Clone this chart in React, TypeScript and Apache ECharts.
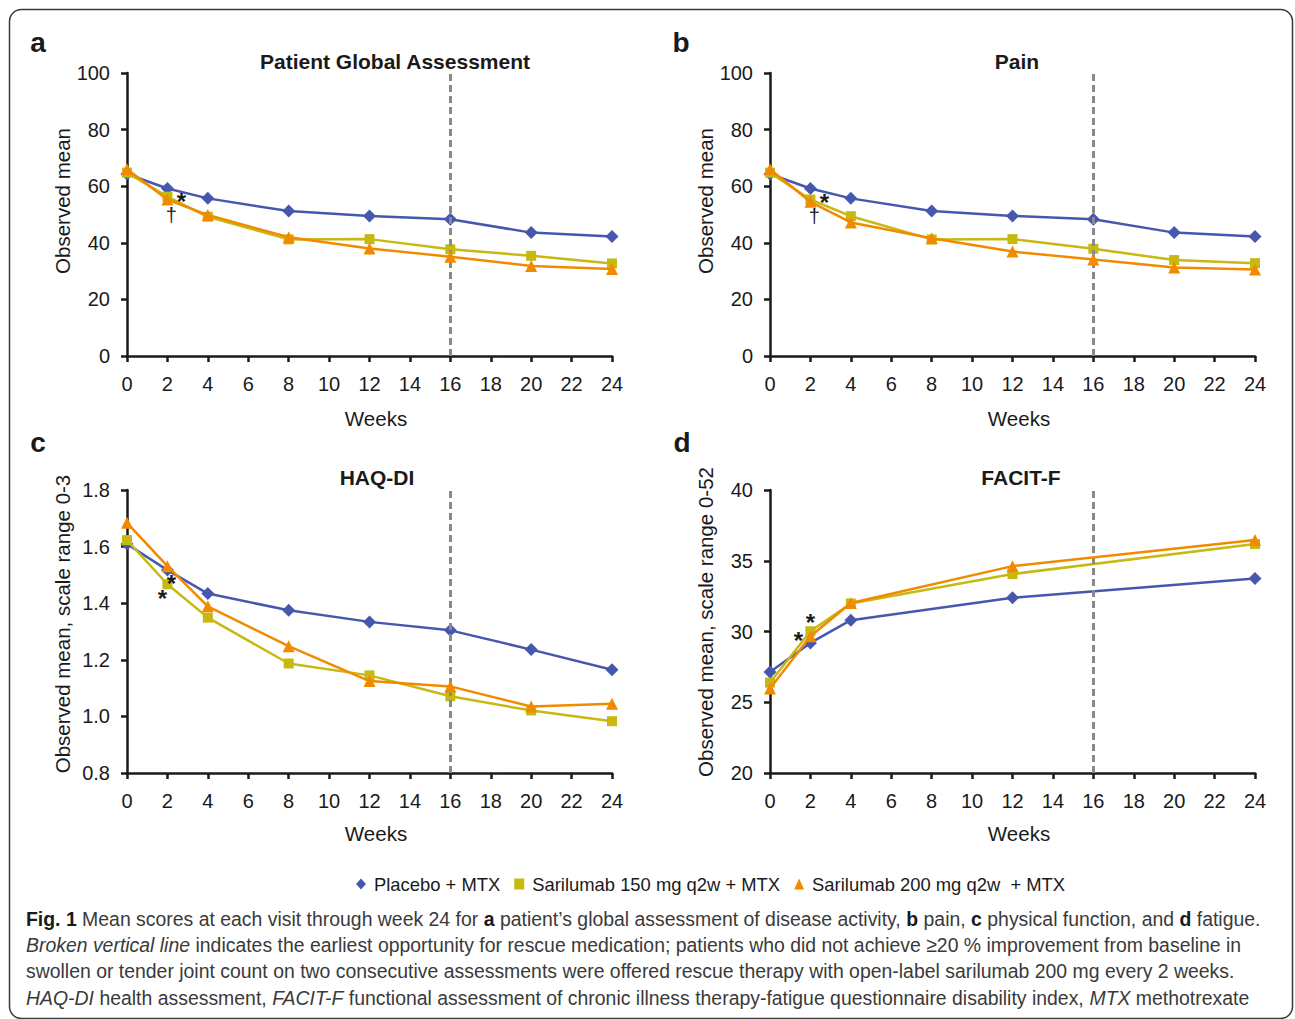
import React, { useEffect, useRef } from "react";
import * as echarts from "echarts";

const weeks = [0, 2, 4, 8, 12, 16, 20, 24];
const weeksFacit = [0, 2, 4, 12, 24];

const pgaPlacebo = [64.3, 59.2, 55.7, 51.2, 49.5, 48.3, 43.6, 42.2];
const pga150 = [64.8, 56.3, 49.2, 41.2, 41.3, 37.7, 35.4, 32.7];
const pga200 = [66.0, 55.3, 49.8, 42.0, 38.0, 35.1, 31.8, 30.7];

const painPlacebo = [64.3, 59.2, 55.7, 51.2, 49.5, 48.3, 43.6, 42.2];
const pain150 = [64.8, 55.3, 49.4, 41.2, 41.3, 37.9, 33.9, 32.8];
const pain200 = [66.0, 54.5, 47.2, 41.6, 36.9, 34.1, 31.3, 30.6];

const haqPlacebo = [1.609, 1.517, 1.434, 1.375, 1.334, 1.304, 1.236, 1.165];
const haq150 = [1.623, 1.467, 1.349, 1.187, 1.145, 1.071, 1.021, 0.983];
const haq200 = [1.684, 1.531, 1.389, 1.248, 1.125, 1.106, 1.035, 1.045];

const facitPlacebo = [27.14, 29.19, 30.8, 32.38, 33.75];
const facit150 = [26.39, 30.02, 31.98, 34.06, 36.18];
const facit200 = [25.97, 29.67, 32.02, 34.62, 36.46];

const seriesNames = ["Placebo + MTX", "Sarilumab 150 mg q2w + MTX", "Sarilumab 200 mg q2w  + MTX"];
const panelTitles = ["Patient Global Assessment", "Pain", "HAQ-DI", "FACIT-F"];
const panelLetters = ["a", "b", "c", "d"];
const yAxisNames = ["Observed mean", "Observed mean", "Observed mean, scale range 0-3", "Observed mean, scale range 0-52"];
const xAxisName = "Weeks";
const rescueWeek = 16;

const captionLines = [
  "{b|Fig. 1} Mean scores at each visit through week 24 for {b|a} patient\u2019s global assessment of disease activity, {b|b} pain, {b|c} physical function, and {b|d} fatigue.",
  "{i|Broken vertical line} indicates the earliest opportunity for rescue medication; patients who did not achieve \u226520 % improvement from baseline in",
  "swollen or tender joint count on two consecutive assessments were offered rescue therapy with open-label sarilumab 200 mg every 2 weeks.",
  "{i|HAQ-DI} health assessment, {i|FACIT-F} functional assessment of chronic illness therapy-fatigue questionnaire disability index, {i|MTX} methotrexate",
];

const COLORS = ["#4658ad", "#c6b912", "#f28a00"];
const SYMBOLS = ["diamond", "rect", "triangle"];
const SYMBOL_SIZES = [13, 10, 12];
const FONT = "'Liberation Sans', Arial, Helvetica, sans-serif";
const AXIS_COLOR = "#1a1a1a";

const pairs = (xs: number[], ys: number[]) => xs.map((x, i) => [x, ys[i]]);

export default function App() {
  const ref = useRef<HTMLDivElement>(null);

  useEffect(() => {
    if (!ref.current) return;
    const chart = echarts.init(ref.current, undefined, { renderer: "svg" });

    const grids = [
      { left: 127, top: 73, width: 485, height: 283 },
      { left: 770, top: 73, width: 485, height: 283 },
      { left: 127, top: 490, width: 485, height: 283 },
      { left: 770, top: 490, width: 485, height: 283 },
    ];

    const axisLine = { show: true, onZero: false, lineStyle: { color: AXIS_COLOR, width: 2.5 } };
    const axisTick = { show: true, inside: false, length: 6, lineStyle: { color: AXIS_COLOR, width: 2.5 } };

    const xAxes = grids.map((_, i) => ({
      type: "value",
      gridIndex: i,
      min: 0,
      max: 24,
      interval: 2,
      axisLine,
      axisTick,
      splitLine: { show: false },
      axisLabel: { fontFamily: FONT, fontSize: 20, color: "#1a1a1a", margin: 18 },
    }));

    const yRanges = [
      { min: 0, max: 100, interval: 20, fmt: (v: number) => String(v) },
      { min: 0, max: 100, interval: 20, fmt: (v: number) => String(v) },
      { min: 0.8, max: 1.8, interval: 0.2, fmt: (v: number) => v.toFixed(1) },
      { min: 20, max: 40, interval: 5, fmt: (v: number) => String(v) },
    ];

    const yAxes = yRanges.map((r, i) => ({
      type: "value",
      gridIndex: i,
      min: r.min,
      max: r.max,
      interval: r.interval,
      axisLine,
      axisTick,
      splitLine: { show: false },
      axisLabel: { fontFamily: FONT, fontSize: 20, color: "#1a1a1a", margin: 17, formatter: r.fmt },
    }));

    const panels = [
      { xs: weeks, data: [pgaPlacebo, pga150, pga200] },
      { xs: weeks, data: [painPlacebo, pain150, pain200] },
      { xs: weeks, data: [haqPlacebo, haq150, haq200] },
      { xs: weeksFacit, data: [facitPlacebo, facit150, facit200] },
    ];

    // annotation marks, anchored to the week-2 point of the 150 mg series
    const annotations: { text: string; offset: number[]; star: boolean }[][] = [
      [
        { text: "*", offset: [14, 5], star: true },
        { text: "\u2020", offset: [4, 18], star: false },
      ],
      [
        { text: "*", offset: [14, 3], star: true },
        { text: "\u2020", offset: [4, 16], star: false },
      ],
      [
        { text: "*", offset: [4, -1], star: true },
        { text: "*", offset: [-5, 14], star: true },
      ],
      [
        { text: "*", offset: [0, -9], star: true },
        { text: "*", offset: [-12, 9], star: true },
      ],
    ];

    const series: any[] = [];
    panels.forEach((p, pi) => {
      p.data.forEach((vals, si) => {
        const s: any = {
          type: "line",
          name: seriesNames[si],
          xAxisIndex: pi,
          yAxisIndex: pi,
          data: pairs(p.xs, vals),
          symbol: SYMBOLS[si],
          symbolSize: SYMBOL_SIZES[si],
          showAllSymbol: true,
          lineStyle: { color: COLORS[si], width: 2.5 },
          itemStyle: { color: COLORS[si] },
          z: 3 + si,
        };
        if (si === 0) {
          s.markLine = {
            silent: true,
            symbol: "none",
            label: { show: false },
            lineStyle: { color: "#8a8a8a", width: 3, type: [7, 4] },
            data: [{ xAxis: rescueWeek }],
          };
        }
        if (si === 1) {
          s.markPoint = {
            silent: true,
            symbol: "circle",
            symbolSize: 0,
            itemStyle: { color: "rgba(0,0,0,0)" },
            data: annotations[pi].map((a) => ({
              coord: [p.xs[1], vals[1]],
              label: {
                show: true,
                position: "inside",
                formatter: a.text,
                offset: a.offset,
                fontFamily: FONT,
                fontSize: a.star ? 24 : 20,
                fontWeight: a.star ? "bold" : "normal",
                color: "#1a1a1a",
              },
            })),
          };
        }
        series.push(s);
      });
    });

    const graphic: any[] = [
      {
        type: "rect",
        shape: { x: 9.5, y: 9.5, width: 1283, height: 1009, r: 12 },
        style: { fill: "none", stroke: "#3a3a3a", lineWidth: 1.5 },
        silent: true,
      },
    ];

    const letterPos = [
      [38, 42],
      [681, 42],
      [38, 442],
      [682, 442],
    ];
    const titlePos = [
      [395, 61],
      [1017, 61],
      [377, 477],
      [1021, 477],
    ];
    const yNamePos = [
      [62, 201],
      [705, 201],
      [62, 624],
      [705, 622],
    ];
    const xNamePos = [
      [376, 418],
      [1019, 418],
      [376, 833],
      [1019, 833],
    ];

    for (let i = 0; i < 4; i++) {
      graphic.push({
        type: "text",
        x: letterPos[i][0],
        y: letterPos[i][1],
        style: {
          text: panelLetters[i],
          fontFamily: FONT,
          fontWeight: "bold",
          fontSize: 28,
          fill: "#1a1a1a",
          align: "center",
          verticalAlign: "middle",
        },
      });
      graphic.push({
        type: "text",
        x: titlePos[i][0],
        y: titlePos[i][1],
        style: {
          text: panelTitles[i],
          fontFamily: FONT,
          fontWeight: "bold",
          fontSize: 21,
          fill: "#1a1a1a",
          align: "center",
          verticalAlign: "middle",
        },
      });
      graphic.push({
        type: "text",
        x: yNamePos[i][0],
        y: yNamePos[i][1],
        rotation: Math.PI / 2,
        style: {
          text: yAxisNames[i],
          fontFamily: FONT,
          fontSize: 20.5,
          fill: "#1a1a1a",
          align: "center",
          verticalAlign: "middle",
        },
      });
      graphic.push({
        type: "text",
        x: xNamePos[i][0],
        y: xNamePos[i][1],
        style: {
          text: xAxisName,
          fontFamily: FONT,
          fontSize: 20.5,
          fill: "#1a1a1a",
          align: "center",
          verticalAlign: "middle",
        },
      });
    }

    const capY = [919, 945, 971, 998];
    const capFont = 21;
    const rich = {
      b: { fontFamily: FONT, fontSize: capFont, fontWeight: "bold", fill: "#1a1a1a", color: "#1a1a1a" },
      i: { fontFamily: FONT, fontSize: capFont, fontStyle: "italic", fill: "#3a3a3a", color: "#3a3a3a" },
    };
    captionLines.forEach((line, i) => {
      graphic.push({
        type: "text",
        x: 26,
        y: capY[i],
        scaleX: 0.925,
        style: {
          text: line,
          fontFamily: FONT,
          fontSize: capFont,
          fill: "#3a3a3a",
          align: "left",
          verticalAlign: "middle",
          rich,
        },
      });
    });

    chart.setOption({
      animation: false,
      backgroundColor: "#ffffff",
      grid: grids,
      xAxis: xAxes,
      yAxis: yAxes,
      legend: {
        left: 351,
        top: 870,
        itemGap: 14,
        itemWidth: 10,
        itemHeight: 11,
        textStyle: { fontFamily: FONT, fontSize: 18.4, color: "#1a1a1a", padding: [0, 0, 0, 3] },
        data: seriesNames.map((n, i) => ({ name: n, icon: SYMBOLS[i] })),
      },
      series,
      graphic,
    });

    return () => {
      chart.dispose();
    };
  }, []);

  return (
    <div
      ref={ref}
      style={{ position: "fixed", left: 0, top: 0, width: 1295, height: 1019, background: "#fff" }}
    />
  );
}
